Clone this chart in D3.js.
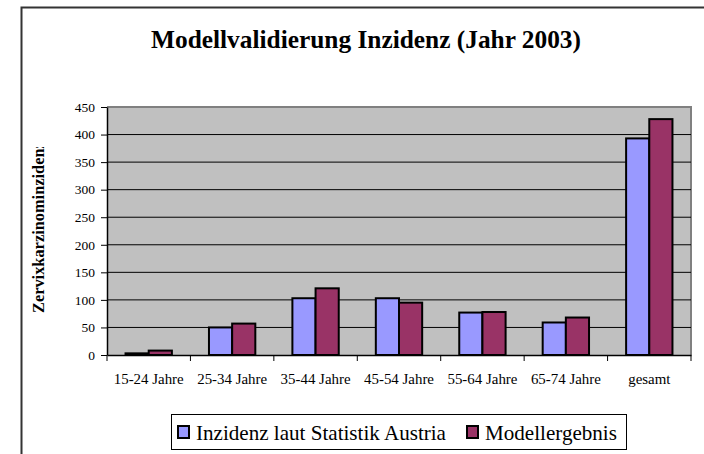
<!DOCTYPE html>
<html><head><meta charset="utf-8">
<script src="https://cdn.jsdelivr.net/npm/d3@7"></script>
<style>body{margin:0;background:#fff}svg{display:block}svg text{font-family:"Liberation Serif",serif}</style>
</head><body>
<script>
const categories = ["15-24 Jahre","25-34 Jahre","35-44 Jahre","45-54 Jahre","55-64 Jahre","65-74 Jahre","gesamt"];
const seriesNames = ["Inzidenz laut Statistik Austria","Modellergebnis"];
const statistikAustria = [3, 50, 103, 103, 77, 59, 393];
const modellergebnis = [8, 57, 121, 95, 78, 68, 428];
const yTicks = [0,50,100,150,200,250,300,350,400,450];
const colors = ["#9999ff","#993366"];
const title = "Modellvalidierung Inzidenz (Jahr 2003)";
const yTitle = "Zervixkarzinominzidenz";

const W=704,H=454;
const svg=d3.select("body").append("svg").attr("width",W).attr("height",H);
const font='"Liberation Serif", serif';

function fit(sel,base,target){
  sel.style("font-size",base+"px");
  const w=sel.node().getComputedTextLength();
  sel.style("font-size",(base*target/w).toFixed(2)+"px");
}

// outer frame
svg.append("path").attr("d","M21.5,"+(H+5)+"V7.5H"+(W+5)).attr("fill","none").attr("stroke","#333").attr("stroke-width",2);

// title, fitted to reference width
const t=svg.append("text").attr("x",366).attr("y",48).attr("text-anchor","middle")
 .style("font-family",font).style("font-weight","bold").text(title);
fit(t,22,430);

const m={l:107,r:691,t:107,b:355};
const x=d3.scaleBand().domain(categories).range([m.l,m.r]);
const y=d3.scaleLinear().domain([0,450]).range([m.b,m.t]);

svg.append("rect").attr("x",m.l).attr("y",m.t).attr("width",m.r-m.l).attr("height",m.b-m.t).attr("fill","#c0c0c0");
svg.append("path").attr("d",`M${m.l},${m.t}H${m.r}V${m.b}`).attr("fill","none").attr("stroke","#808080").attr("stroke-width",2);

// gridlines
svg.append("g").selectAll("line").data(yTicks.filter(d=>d>0&&d<450)).join("line")
 .attr("x1",m.l).attr("x2",m.r).attr("y1",d=>y(d)).attr("y2",d=>y(d)).attr("stroke","#000").attr("stroke-width",1);

// bars
const inner=d3.scaleBand().domain([0,1]).range([0,x.bandwidth()]).paddingInner(0).paddingOuter(0.8);
const data=categories.map((c,i)=>({c,v:[statistikAustria[i],modellergebnis[i]]}));
const g=svg.append("g");
data.forEach(d=>{
  d.v.forEach((v,k)=>{
    g.append("rect").attr("x",x(d.c)+inner(k)).attr("y",y(v)).attr("width",inner.bandwidth()).attr("height",y(0)-y(v))
     .attr("fill",colors[k]).attr("stroke","#000").attr("stroke-width",2);
  });
});

// axes
const ya=svg.append("g").attr("transform",`translate(${m.l},0)`).call(d3.axisLeft(y).tickValues(yTicks).tickSize(6).tickSizeOuter(0).tickPadding(6));
ya.select(".domain").attr("stroke","#000").attr("stroke-width",1.5);
ya.selectAll("line").attr("stroke","#000");
ya.selectAll("text").style("font-family",font).style("font-size","13.5px").attr("fill","#000");
const xa=svg.append("g").attr("transform",`translate(0,${m.b})`).call(d3.axisBottom(x).tickSize(0).tickPadding(18));
xa.select(".domain").attr("stroke","#000").attr("stroke-width",1.5);
const xt=xa.selectAll("text").style("font-family",font).attr("fill","#000");
const xfs=(()=>{const s=d3.select(xt.nodes()[0]);fit(s,12,70);return s.style("font-size");})();
xt.style("font-size",xfs);
// boundary ticks
const bounds=categories.map(c=>x(c)).concat([m.r]);
svg.append("g").selectAll("line").data(bounds).join("line").attr("x1",d=>d).attr("x2",d=>d).attr("y1",m.b).attr("y2",m.b+6).attr("stroke","#000");

// y title with clip (clip applied on an unrotated group)
svg.append("clipPath").attr("id","yc").append("rect").attr("x",20).attr("y",147).attr("width",40).attr("height",200);
const yt=svg.append("g").attr("clip-path","url(#yc)").append("text").attr("transform","translate(44,313) rotate(-90)")
 .style("font-family",font).style("font-weight","bold").text(yTitle);
fit(yt,12,172);

// legend
const lg=svg.append("g");
lg.append("rect").attr("x",171.5).attr("y",414.5).attr("width",455).attr("height",35).attr("fill","#fff").attr("stroke","#000");
const lx=[178,467];
seriesNames.forEach((n,k)=>{
  lg.append("rect").attr("x",lx[k]).attr("y",426).attr("width",11).attr("height",12).attr("fill",colors[k]).attr("stroke","#000").attr("stroke-width",2);
  const tt=lg.append("text").attr("x",lx[k]+18).attr("y",440).style("font-family",font).text(n);
  if(k===0) fit(tt,18,250); else tt.style("font-size",lg.select("text").style("font-size"));
});
</script>
</body></html>
